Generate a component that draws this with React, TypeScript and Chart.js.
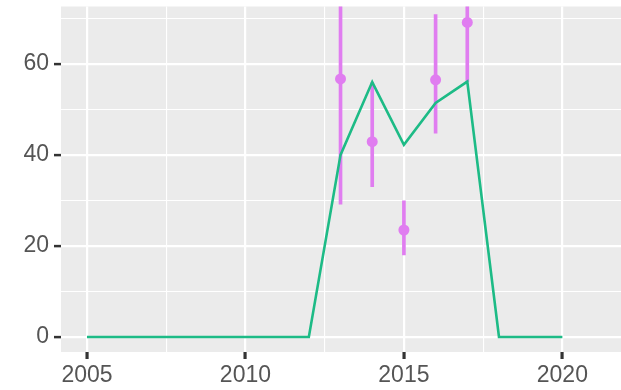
import React, { useEffect, useRef } from "react";
import { Chart, registerables } from "chart.js";

Chart.register(...registerables);

const years = [2005, 2006, 2007, 2008, 2009, 2010, 2011, 2012, 2013, 2014, 2015, 2016, 2017, 2018, 2019, 2020];
const lineValues = [0, 0, 0, 0, 0, 0, 0, 0, 40, 56, 42.2, 51.4, 56.1, 0, 0, 0];

const obsYears = [2013, 2014, 2015, 2016, 2017];
const obsMean = [56.7, 42.9, 23.5, 56.5, 69.1];
const obsLow = [29.2, 33.0, 18.0, 44.8, 56.1];
const obsHigh = [84, 55.9, 29.9, 70.8, 82];

const xMajorTicks = [2005, 2010, 2015, 2020];
const xMinorTicks = [2007.5, 2012.5, 2017.5];
const yMajorTicks = [0, 20, 40, 60];
const yMinorTicks = [10, 30, 50, 70];
const xLimits = [2004.18, 2021.85];
const yLimits = [-3.3, 72.6];

const GREEN = "#1DBB86";
const PINK = "#E07DF0";
const PANEL = "#EBEBEB";
const TICK = "#333333";
const LABEL = "#555555";
const FONT = "'Liberation Sans', Arial, Helvetica, sans-serif";

function drawXTickMarks(chart: any) {
  const { ctx, chartArea, scales } = chart;
  const xs = scales && scales.x;
  if (!xs || !chartArea) return;
  ctx.save();
  ctx.globalAlpha = 1;
  ctx.globalCompositeOperation = "source-over";
  ctx.fillStyle = TICK;
  xMajorTicks.forEach((v) => {
    const px = xs.getPixelForValue(v);
    ctx.fillRect(Math.round(px) - 1.25, Math.round(chartArea.bottom), 2.5, 7);
  });
  ctx.restore();
}

const panelBg = {
  id: "panelBg",
  beforeDraw(chart: any) {
    const { ctx, chartArea } = chart;
    if (!chartArea) return;
    ctx.save();
    ctx.fillStyle = PANEL;
    ctx.fillRect(chartArea.left, chartArea.top, chartArea.right - chartArea.left, chartArea.bottom - chartArea.top);
    ctx.restore();
    drawXTickMarks(chart);
  },
  afterDraw(chart: any) {
    drawXTickMarks(chart);
  },
};

function isMajor(list: number[], v: number) {
  return list.some((m) => Math.abs(m - v) < 1e-6);
}

export default function App() {
  const ref = useRef<HTMLCanvasElement | null>(null);

  useEffect(() => {
    if (!ref.current) return;
    const chart = new Chart(ref.current, {
      type: "line",
      data: {
        datasets: [
          {
            type: "line",
            data: years.map((x, i) => ({ x, y: lineValues[i] })),
            borderColor: GREEN,
            borderWidth: 2.6,
            pointRadius: 0,
            tension: 0,
            fill: false,
            order: 0,
          } as any,
          {
            type: "scatter",
            data: obsYears.map((x, i) => ({ x, y: obsMean[i] })),
            backgroundColor: PINK,
            borderColor: PINK,
            pointRadius: 5.5,
            pointBorderWidth: 0,
            order: 1,
          } as any,
          {
            type: "bar",
            data: obsYears.map((x, i) => ({ x, y: [obsLow[i], obsHigh[i]] })),
            backgroundColor: PINK,
            borderWidth: 0,
            barThickness: 3,
            clip: 0,
            order: 2,
          } as any,
        ],
      },
      options: {
        responsive: false,
        devicePixelRatio: 1,
        animation: false,
        layout: { autoPadding: false, padding: { top: 6.5, right: 0, left: 0, bottom: 0 } },
        plugins: { legend: { display: false }, tooltip: { enabled: false } },
        scales: {
          x: {
            type: "linear",
            offset: false,
            min: xLimits[0],
            max: xLimits[1],
            afterBuildTicks: (scale: any) => {
              scale.ticks = [...xMajorTicks, ...xMinorTicks].sort((a, b) => a - b).map((value) => ({ value }));
            },
            afterFit: (scale: any) => {
              scale.height = 38;
              scale.paddingLeft = 0;
              scale.paddingRight = 0;
            },
            border: { display: false },
            grid: {
              offset: false,
              color: "#FFFFFF",
              lineWidth: (ctx: any) => (isMajor(xMajorTicks, ctx.tick?.value) ? 2.2 : 1.1),
              tickColor: (ctx: any) => (isMajor(xMajorTicks, ctx.tick?.value) ? TICK : "rgba(0,0,0,0)"),
              tickWidth: 2.5,
              tickLength: 7,
            },
            ticks: {
              autoSkip: false,
              maxRotation: 0,
              padding: 3,
              color: LABEL,
              showLabelBackdrop: false,
              font: { family: FONT, size: 23 },
              callback: (v: any) => (isMajor(xMajorTicks, Number(v)) ? String(v) : ""),
            },
          },
          y: {
            type: "linear",
            min: yLimits[0],
            max: yLimits[1],
            afterBuildTicks: (scale: any) => {
              scale.ticks = [...yMajorTicks, ...yMinorTicks].sort((a, b) => a - b).map((value) => ({ value }));
            },
            afterFit: (scale: any) => {
              scale.width = 61;
              scale.paddingTop = 0;
              scale.paddingBottom = 0;
            },
            border: { display: false },
            grid: {
              color: "#FFFFFF",
              lineWidth: (ctx: any) => (isMajor(yMajorTicks, ctx.tick?.value) ? 2.2 : 1.1),
              tickColor: (ctx: any) => (isMajor(yMajorTicks, ctx.tick?.value) ? TICK : "rgba(0,0,0,0)"),
              tickWidth: 2.5,
              tickLength: 7,
            },
            ticks: {
              autoSkip: false,
              padding: 5,
              color: LABEL,
              font: { family: FONT, size: 23 },
              callback: (v: any) => (isMajor(yMajorTicks, Number(v)) ? String(v) : ""),
            },
          },
        },
      } as any,
      plugins: [panelBg],
    });
    return () => chart.destroy();
  }, []);

  return (
    <div style={{ position: "absolute", left: 0, top: 0, width: 621, height: 390, background: "#FFFFFF" }}>
      <canvas ref={ref} width={621} height={390} style={{ display: "block" }} />
    </div>
  );
}
